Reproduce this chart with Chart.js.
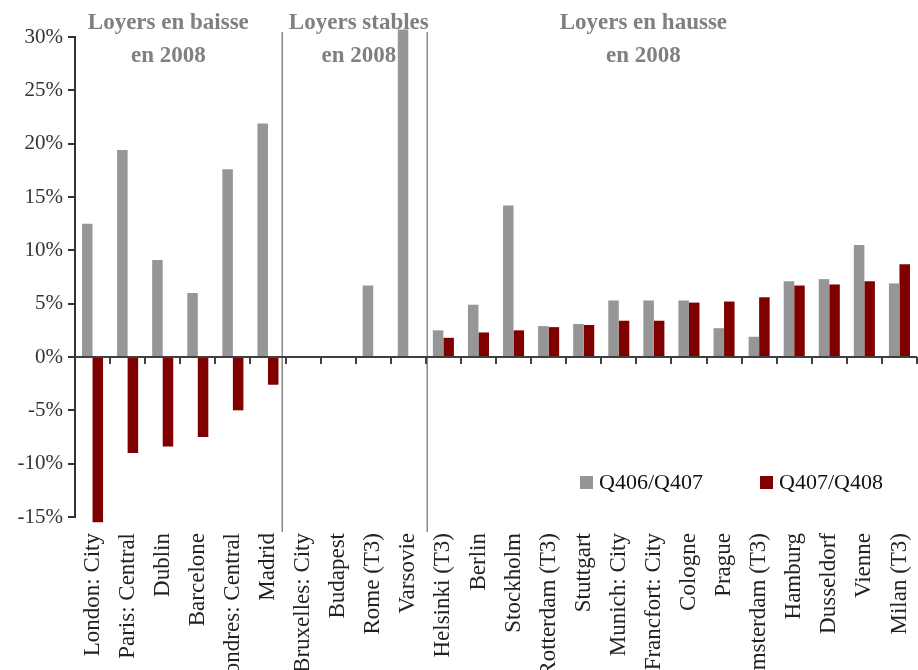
<!DOCTYPE html>
<html>
<head>
<meta charset="utf-8">
<script src="https://cdn.jsdelivr.net/npm/chart.js@4/dist/chart.umd.min.js"></script>
<style>
  html, body { margin: 0; padding: 0; background: #ffffff; }
  #wrap { width: 918px; height: 670px; overflow: hidden; }
</style>
</head>
<body>
<div id="wrap"><canvas id="c" width="918" height="670"></canvas></div>
<script>
// Office rent growth by city, two year-on-year periods
const categories = [
  'London: City', 'Paris: Central', 'Dublin', 'Barcelone', 'Londres: Central', 'Madrid',
  'Bruxelles: City', 'Budapest', 'Rome (T3)', 'Varsovie',
  'Helsinki (T3)', 'Berlin', 'Stockholm', 'Rotterdam (T3)', 'Stuttgart', 'Munich: City',
  'Francfort: City', 'Cologne', 'Prague', 'Amsterdam (T3)', 'Hamburg', 'Dusseldorf',
  'Vienne', 'Milan (T3)'
];
const q406q407 = [
  12.5, 19.4, 9.1, 6.0, 17.6, 21.9,
  null, null, 6.7, 30.7,
  2.5, 4.9, 14.2, 2.9, 3.1, 5.3, 5.3, 5.3, 2.7, 1.9, 7.1, 7.3, 10.5, 6.9
];
const q407q408 = [
  -15.5, -9.0, -8.4, -7.5, -5.0, -2.6,
  null, null, null, null,
  1.8, 2.3, 2.5, 2.8, 3.0, 3.4, 3.4, 5.1, 5.2, 5.6, 6.7, 6.8, 7.1, 8.7
];
const seriesNames = ['Q406/Q407', 'Q407/Q408'];
const yTickValues = [-15, -10, -5, 0, 5, 10, 15, 20, 25, 30];
const sectionTitles = [
  ['Loyers en baisse', 'en 2008'],
  ['Loyers stables', 'en 2008'],
  ['Loyers en hausse', 'en 2008']
];

const SERIF = '"Liberation Serif", "DejaVu Serif", serif';

// Zero line, boundary ticks, group separators, group titles and legend
const decor = {
  id: 'decor',
  beforeDatasetsDraw(chart) {
    const { ctx, scales: { x } } = chart;
    const anchors = [2.16, 7.59, 15.7];
    ctx.save();
    ctx.fillStyle = '#808080';
    ctx.font = 'bold 23px ' + SERIF;
    ctx.textAlign = 'center';
    ctx.textBaseline = 'middle';
    sectionTitles.forEach((lines, k) => {
      const cx = x.getPixelForValue(anchors[k]);
      ctx.fillText(lines[0], cx, 23);
      ctx.fillText(lines[1], cx, 56);
    });
    ctx.restore();
  },
  afterDatasetsDraw(chart) {
    const { ctx, chartArea: a, scales: { x, y } } = chart;
    const y0 = y.getPixelForValue(0);
    ctx.save();
    // separators between rent groups
    ctx.strokeStyle = '#8a8a8a';
    ctx.lineWidth = 1.5;
    [[5.5, -4], [9.5, 1.5]].forEach(([v, dx]) => {
      const px = Math.round(x.getPixelForValue(v) + dx) + 0.25;
      ctx.beginPath();
      ctx.moveTo(px, 32);
      ctx.lineTo(px, 532);
      ctx.stroke();
    });
    // zero line
    ctx.strokeStyle = '#404040';
    ctx.lineWidth = 2;
    ctx.beginPath();
    ctx.moveTo(a.left, y0);
    ctx.lineTo(a.right, y0);
    ctx.stroke();
    // tick marks at category boundaries
    for (let i = 1; i <= categories.length; i++) {
      const px = Math.round(x.getPixelForValue(i - 0.5));
      ctx.beginPath();
      ctx.moveTo(px, y0);
      ctx.lineTo(px, y0 + 7);
      ctx.stroke();
    }
    // legend
    const items = [[580, 0], [760, 1]];
    ctx.font = '22px ' + SERIF;
    ctx.textBaseline = 'middle';
    ctx.textAlign = 'left';
    items.forEach(([lx, di]) => {
      const ds = chart.data.datasets[di];
      ctx.fillStyle = ds.backgroundColor;
      ctx.fillRect(lx, 476, 13, 13);
      ctx.fillStyle = '#111111';
      ctx.fillText(ds.label, lx + 19, 483);
    });
    ctx.restore();
  }
};

new Chart(document.getElementById('c'), {
  type: 'bar',
  data: {
    labels: categories,
    datasets: [
      { label: seriesNames[0], data: q406q407, backgroundColor: '#969696',
        categoryPercentage: 0.6, barPercentage: 1.0,
        clip: { left: 0, top: 12, right: 5, bottom: 12 } },
      { label: seriesNames[1], data: q407q408, backgroundColor: '#800000',
        categoryPercentage: 0.6, barPercentage: 1.0,
        clip: { left: 0, top: 12, right: 5, bottom: 12 } }
    ]
  },
  options: {
    responsive: false,
    animation: false,
    devicePixelRatio: 1,
    layout: { padding: { top: 37, right: 1, left: 0, bottom: 0 } },
    plugins: {
      legend: { display: false },
      tooltip: { enabled: false }
    },
    scales: {
      x: {
        offset: true,
        border: { display: false },
        grid: { display: false, drawTicks: false },
        ticks: {
          autoSkip: false,
          minRotation: 90,
          maxRotation: 90,
          padding: 16,
          color: '#222222',
          font: { family: SERIF, size: 23 }
        },
        afterFit(scale) {
          scale.height = 153;
          scale.paddingLeft = 0;
          scale.paddingRight = 0;
        }
      },
      y: {
        min: -15,
        max: 30,
        border: { display: true, color: '#333333', width: 2 },
        grid: { drawOnChartArea: false, drawTicks: true, tickLength: 7, color: '#333333', lineWidth: 2 },
        afterBuildTicks(scale) { scale.ticks = yTickValues.map(v => ({ value: v })); },
        ticks: {
          padding: 5,
          color: '#333333',
          font: { family: SERIF, size: 21 },
          callback: v => v + '%'
        },
        afterFit(scale) {
          scale.width = 75;
          scale.paddingTop = 0;
          scale.paddingBottom = 0;
        }
      }
    }
  },
  plugins: [decor]
});
</script>
</body>
</html>
